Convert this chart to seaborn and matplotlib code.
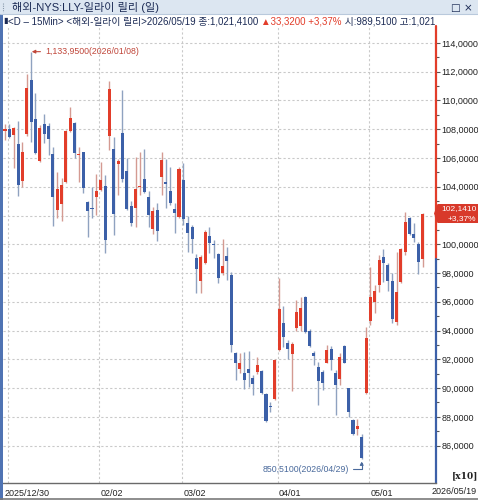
import numpy as np
import pandas as pd
import matplotlib
matplotlib.use("Agg")
import matplotlib.pyplot as plt
import seaborn as sns
from matplotlib.patches import Rectangle, Polygon
from matplotlib.lines import Line2D
from matplotlib.transforms import Bbox, TransformedBbox, IdentityTransform

# --- data (prices in USD) ---
holidays = ["2026-01-01", "2026-01-19", "2026-02-16", "2026-04-03"]
dates = pd.bdate_range("2025-12-30", "2026-05-19", freq="C", holidays=holidays)

opens = [1079.0, 1080.1, 1076.2, 1069.7, 1044.2, 1076.6, 1114.2, 1086.9, 1057.9, 1083.4,
         1082.2, 1062.7, 1023.8, 1028.0, 1043.5, 1078.7, 1084.5, 1062.0, 1063.9, 1029.1,
         1025.4, 1033.1, 1037.7, 1040.5, 1075.2, 1066.0, 1055.8, 1077.2, 1050.9, 1026.6,
         1025.0, 1039.8, 1045.4, 1032.6, 1010.4, 1023.8, 1047.0, 1042.6, 1036.8, 1024.3,
         1018.7, 1044.7, 1015.0, 1011.8, 990.2, 974.7, 986.7, 1005.7, 999.7, 993.2,
         979.8, 992.1, 978.6, 924.6, 913.3, 910.7, 913.0, 906.8, 911.4, 912.1,
         895.9, 887.5, 892.2, 926.5, 945.0, 931.6, 923.7, 941.5, 943.2, 963.5,
         939.9, 924.1, 915.0, 911.4, 917.7, 926.9, 910.2, 906.1, 929.2, 899.8,
         877.8, 871.3, 865.7, 896.8, 947.0, 960.1, 971.7, 990.9, 985.6, 974.7,
         946.0, 974.0, 994.9, 1018.5, 1006.9, 1000.2, 989.51]
highs = [1083.6, 1083.6, 1081.7, 1085.7, 1071.3, 1118.4, 1133.95, 1104.9, 1082.9, 1090.3,
         1084.5, 1067.4, 1050.0, 1045.8, 1079.5, 1095.7, 1085.2, 1067.4, 1064.4, 1030.3,
         1040.0, 1048.6, 1057.4, 1048.1, 1113.7, 1074.8, 1059.5, 1107.3, 1059.8, 1030.3,
         1060.5, 1064.4, 1066.0, 1037.3, 1026.1, 1028.5, 1064.4, 1059.1, 1054.0, 1028.5,
         1054.0, 1056.3, 1019.7, 1013.4, 993.2, 992.5, 1009.9, 1011.8, 1003.0, 993.7,
         1003.4, 998.3, 980.9, 925.3, 924.6, 925.3, 925.8, 909.1, 921.8, 912.6,
         896.3, 890.5, 920.0, 976.3, 957.0, 933.4, 932.3, 961.2, 963.5, 964.0,
         941.0, 926.0, 918.0, 912.6, 929.9, 929.2, 912.6, 924.2, 929.9, 899.8,
         878.3, 878.3, 868.1, 942.7, 984.4, 971.7, 992.5, 996.5, 986.7, 980.2,
         994.9, 997.2, 1022.7, 1019.2, 1014.5, 1001.8, 1021.9]
lows = [1072.5, 1073.6, 1052.8, 1033.5, 1040.0, 1075.0, 1071.3, 1062.7, 1057.4, 1070.1,
        1062.0, 1012.7, 1018.0, 1016.4, 1042.8, 1078.0, 1060.0, 1043.5, 1035.4, 1004.8,
        1018.0, 1020.3, 1037.2, 993.7, 1065.5, 1006.4, 1034.3, 1043.5, 1023.8, 1012.7,
        1012.2, 1034.3, 1035.4, 1011.8, 1007.1, 1002.5, 1034.3, 1025.0, 1027.3, 1007.6,
        1018.0, 1013.4, 994.8, 994.2, 965.9, 966.3, 986.3, 994.2, 990.2, 973.3,
        978.6, 975.2, 925.3, 905.6, 910.7, 899.1, 901.0, 895.2, 909.5, 895.9,
        876.6, 883.6, 891.7, 926.0, 928.8, 920.0, 898.2, 940.0, 940.0, 938.5,
        928.8, 916.0, 888.2, 898.6, 917.2, 912.6, 881.3, 902.1, 917.2, 880.1,
        867.4, 867.4, 850.51, 895.9, 944.0, 952.0, 967.0, 974.0, 967.7, 945.0,
        943.9, 973.3, 992.5, 1006.4, 1001.8, 979.3, 984.4]
closes = [1079.9, 1074.8, 1080.6, 1041.2, 1064.4, 1108.4, 1085.2, 1063.2, 1081.0, 1076.6,
          1072.9, 1033.1, 1038.4, 1041.2, 1079.0, 1087.5, 1063.7, 1063.0, 1039.3, 1023.3,
          1024.5, 1037.2, 1044.6, 1002.9, 1107.7, 1021.1, 1058.1, 1045.2, 1024.3, 1015.0,
          1038.2, 1040.3, 1036.1, 1020.4, 1023.1, 1009.5, 1058.6, 1042.1, 1028.5, 1022.0,
          1052.3, 1017.6, 1007.6, 1003.4, 982.8, 990.9, 1008.8, 1001.1, 999.2, 976.8,
          985.1, 988.6, 929.9, 917.2, 917.2, 905.6, 910.2, 902.6, 916.0, 896.3,
          877.3, 886.6, 919.5, 954.8, 935.3, 926.9, 930.6, 953.1, 955.5, 939.2,
          929.2, 922.5, 905.0, 903.7, 926.5, 919.5, 902.1, 921.4, 917.7, 883.6,
          867.8, 873.6, 851.5, 934.6, 963.6, 967.7, 989.1, 986.7, 974.7, 948.0,
          967.0, 996.9, 1015.7, 1006.9, 1004.6, 987.9, 1021.41]

price_ticks = list(range(860, 1141, 20))
label_dates = ["2025-12-30", "2026-02-02", "2026-03-02", "2026-04-01", "2026-05-01"]
label_texts = ["2025/12/30", "02/02", "03/02", "04/01", "05/01"]
last_label = "2026/05/19"
high_note = "1,133,9500(2026/01/08)"
low_note = "850,5100(2026/04/29)"
title = "해외-NYS:LLY-일라이 릴리 (일)"
info_parts = ["<D – 15Min> <해외-일라이 릴리>2026/05/19 종:1,021,4100 ",
              "▲33,3200 +3,37%",
              " 시:989,5100 고:1,021,4100"]
change_pct = "+3,37%"

# --- style ---
RED, BLUE = "#e23d2a", "#3c60a8"
RED_WICK, BLUE_WICK = "#d49a92", "#8fa2c0"
NAVY = "#1c2b55"
W, H, DPI = 478, 500, 100

sns.set_theme(style="white")
plt.rcParams["font.family"] = ["Liberation Sans", "Noto Sans CJK KR", "DejaVu Sans"]

fig = plt.figure(figsize=(W / DPI, H / DPI), dpi=DPI)
fig.patch.set_facecolor("white")

# plot area in pixels: x 3..436, y 26..483
ax = fig.add_axes([3 / W, (H - 483) / H, 433 / W, 457 / H])
ax.set_facecolor("white")

idx = np.arange(len(dates))
o, h, l, c = map(np.asarray, (opens, highs, lows, closes))
up = c >= o
ax.vlines(idx, l, h, colors=np.where(up, RED_WICK, BLUE_WICK), linewidth=1.0, zorder=2)
ax.bar(idx, np.maximum(np.abs(c - o), 0.9), bottom=np.minimum(o, c), width=0.7,
       color=np.where(up, RED, BLUE), linewidth=0, zorder=3)

ax.set_xlim(-0.46, 99.08)
ax.set_ylim(834.0, 1151.8)

# grid
for p in price_ticks:
    ax.axhline(p, color="#c9c9c9", lw=0.8, ls=(0, (2, 2)), zorder=1)
date_str = [d.strftime("%Y-%m-%d") for d in dates]
major_idx = [date_str.index(d) for d in label_dates]
grid_x = [0.75] + [m - 0.3 for m in major_idx[1:]]
for gx in grid_x:
    ax.axvline(gx, color="#c9c9c9", lw=0.8, ls=(0, (2, 2)), zorder=1)

# spines
for s in ["top", "left", "right"]:
    ax.spines[s].set_visible(False)
ax.spines["bottom"].set_color("#6a6a6a")
ax.spines["bottom"].set_linewidth(1.0)
yt = ax.get_yaxis_transform()
ax.add_line(Line2D([1, 1], [opens[-1], 1151.8], transform=yt, color=RED, lw=1.6, clip_on=False))
ax.add_line(Line2D([1, 1], [834.0, opens[-1]], transform=yt, color=BLUE, lw=1.6, clip_on=False))

# y axis on right; the label hidden under the last-price box is left out
box_half = 9.5
yc = H - ax.transData.transform((0, closes[-1]))[1]
ytick_labels = []
for p in price_ticks:
    yp = H - ax.transData.transform((0, p))[1]
    txt = f"{p / 10:.4f}".replace(".", ",")
    ytick_labels.append("" if abs(yp - yc) < box_half + 4 else txt)
ax.yaxis.tick_right()
ax.set_yticks(price_ticks)
ax.set_yticklabels(ytick_labels)
ax.set_yticks([p + 10 for p in price_ticks[:-1]], minor=True)
ax.tick_params(axis="y", which="major", direction="out", length=3, width=0.8,
               color="#555555", labelsize=6.5, labelcolor="#222222", pad=1)
ax.tick_params(axis="y", which="minor", direction="out", length=2, width=0.8, color="#555555")

# x axis: month labels + weekly minor ticks
week_key = [d.isocalendar()[:2] for d in dates]
week_starts = [i for i in idx if i == 0 or week_key[i] != week_key[i - 1]]
minor_idx = []
for w in week_starts:
    prev = max(m for m in major_idx if m <= w)
    span = 11 if prev == 0 else 6
    if w - prev >= span:
        minor_idx.append(w)
ax.set_xticks(major_idx)
ax.set_xticklabels(label_texts, ha="left")
ax.set_xticks(minor_idx, minor=True)
ax.tick_params(axis="x", which="major", direction="out", length=4, width=0.8,
               color="#555555", labelsize=6.5, labelcolor="#222222", pad=0.5)
ax.tick_params(axis="x", which="minor", direction="out", length=3, width=0.8, color="#555555")
ax.grid(False)

# high / low notes
hi_i = int(np.argmax(h))
lo_i = int(np.argmin(l))
ax.annotate(high_note, xy=(hi_i, h[hi_i]), xytext=(14, 0), textcoords="offset pixels",
            ha="left", va="center", fontsize=6.3, color="#c0463a",
            arrowprops=dict(arrowstyle="-|>", color="#c0463a", lw=0.8,
                            mutation_scale=5, shrinkA=1, shrinkB=0.5))
ax.annotate(low_note, xy=(lo_i, l[lo_i]), xytext=(-13, -10), textcoords="offset pixels",
            ha="right", va="center", fontsize=6.3, color="#4a6a9c",
            arrowprops=dict(arrowstyle="-|>", color="#4a6a9c", lw=0.8, mutation_scale=5,
                            shrinkA=1, shrinkB=1.5,
                            connectionstyle="angle,angleA=0,angleB=90,rad=0"))

fig.text(432 / W, 1 - 492 / H, last_label, fontsize=6.5, color="#222222", va="center", ha="left")
fig.text(452 / W, 1 - 476 / H, "[x10]", fontsize=6.5, color="#222222", va="center", ha="left",
         family="DejaVu Serif", weight="bold")

# frame decorations
fig.patches.append(Rectangle((0, 1 - 14 / H), 1, 14 / H, transform=fig.transFigure,
                             facecolor="#dce6f1", edgecolor="none", zorder=0))
fig.lines.append(Line2D([0, 1], [1 - 14 / H] * 2, transform=fig.transFigure, color="#b9c9dc", lw=0.8))
fig.patches.append(Rectangle((0, 0), 2.6 / W, 1 - 14 / H, transform=fig.transFigure,
                             facecolor="#4f73b3", edgecolor="none"))
fig.lines.append(Line2D([0, 1], [1.5 / H] * 2, transform=fig.transFigure, color="#7a7a7a", lw=1.2))
fig.lines.append(Line2D([3 / W] * 2, [1 - 3 / H, 1 - 12 / H], transform=fig.transFigure,
                        color="#8899aa", lw=0.8, ls=(0, (1, 1))))
fig.text(12 / W, 1 - 7.5 / H, title, fontsize=8.0, color=NAVY, va="center", ha="left")
fig.text(473 / W, 1 - 7.5 / H, "□ ×", fontsize=7.5, color=NAVY, va="center", ha="right",
         family="DejaVu Sans")

# info line, clipped at the price axis
renderer = fig.canvas.get_renderer()
clip = TransformedBbox(Bbox([[0, 0], [435 / W, 1]]), fig.transFigure)
fig.text(3 / W, 1 - 21 / H, "▮", fontsize=6, color=NAVY, va="center", ha="left", family="DejaVu Sans")
xpos = 8
for part, col in zip(info_parts, [NAVY, RED, NAVY]):
    t = fig.text(xpos / W, 1 - 21 / H, part, fontsize=7.0, color=col, va="center", ha="left")
    t.set_clip_box(clip)
    t.set_clip_on(True)
    xpos = t.get_window_extent(renderer).x1

# last price box
box_top, box_bot = yc - box_half, yc + box_half
to_disp = lambda x, y: (x, H - y)
fig.patches.append(Polygon([to_disp(434, yc), to_disp(437.5, box_top), to_disp(478, box_top),
                            to_disp(478, box_bot), to_disp(437.5, box_bot)],
                           closed=True, transform=IdentityTransform(),
                           facecolor="#d8392a", edgecolor="none"))
fig.text(476.5 / W, 1 - (yc - 4.6) / H, f"{closes[-1] / 10:.4f}".replace(".", ","),
         fontsize=6.0, color="white", ha="right", va="center")
fig.text(476.5 / W, 1 - (yc + 4.8) / H, change_pct, fontsize=6.0, color="white",
         ha="right", va="center")

fig.savefig("out.png", dpi=DPI)
